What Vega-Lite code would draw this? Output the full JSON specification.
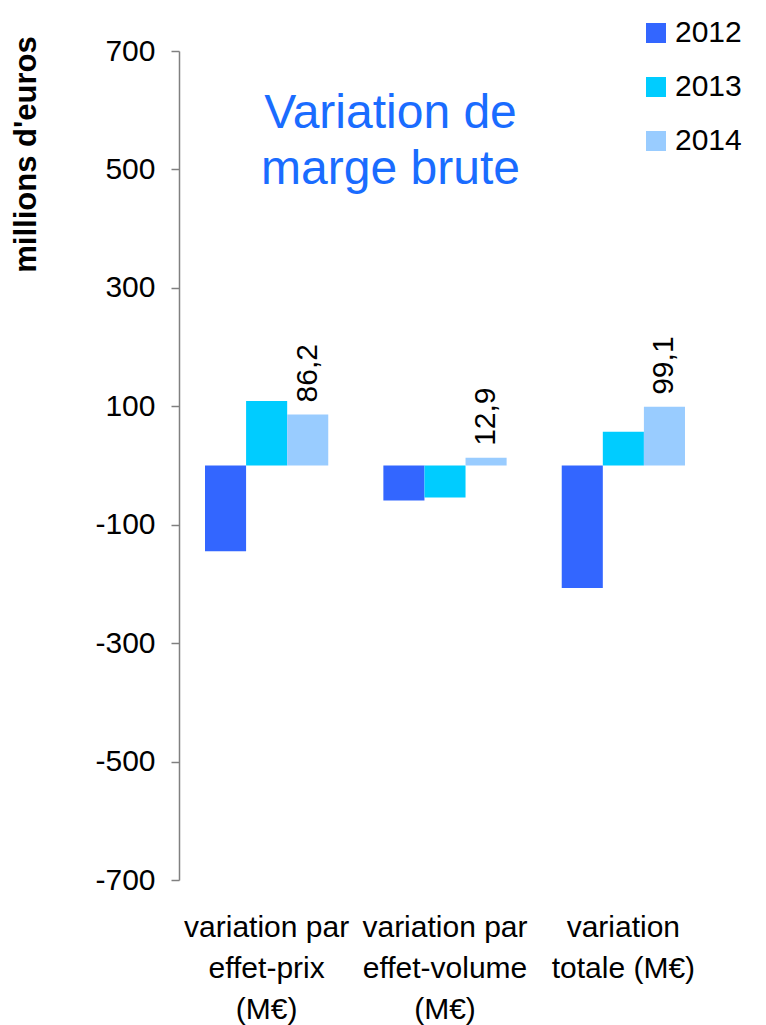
{
  "$schema": "https://vega.github.io/schema/vega-lite/v6.json",
  "autosize": "none",
  "padding": {"left": 179, "top": 51, "right": 0, "bottom": 145},
  "width": 587,
  "height": 829,
  "background": "white",
  "config": {
    "view": {"stroke": null},
    "font": "Liberation Sans",
    "text": {"font": "Liberation Sans"}
  },
  "title": {
    "text": ["Variation de", "marge brute"],
    "fontSize": 48,
    "fontWeight": "normal",
    "font": "Liberation Sans",
    "color": "#1a6cff",
    "anchor": "middle",
    "frame": "group",
    "baseline": "top",
    "lineHeight": 56,
    "dx": -82,
    "dy": 176,
    "offset": 0
  },
  "data": {
    "values": [
      {"category": "variation par|effet-prix|(M€)", "year": "2012", "value": -145, "label": ""},
      {"category": "variation par|effet-prix|(M€)", "year": "2013", "value": 109, "label": ""},
      {"category": "variation par|effet-prix|(M€)", "year": "2014", "value": 86.2, "label": "86,2"},
      {"category": "variation par|effet-volume|(M€)", "year": "2012", "value": -59, "label": ""},
      {"category": "variation par|effet-volume|(M€)", "year": "2013", "value": -54, "label": ""},
      {"category": "variation par|effet-volume|(M€)", "year": "2014", "value": 12.9, "label": "12,9"},
      {"category": "variation|totale (M€)", "year": "2012", "value": -207, "label": ""},
      {"category": "variation|totale (M€)", "year": "2013", "value": 57, "label": ""},
      {"category": "variation|totale (M€)", "year": "2014", "value": 99.1, "label": "99,1"}
    ]
  },
  "encoding": {
    "x": {
      "field": "category",
      "type": "nominal",
      "sort": null,
      "scale": {"paddingInner": 0.309, "paddingOuter": 0.3, "align": 0.243},
      "axis": {
        "title": null,
        "orient": "bottom",
        "domain": false,
        "ticks": false,
        "labelAngle": 0,
        "labelExpr": "split(datum.label, '|')",
        "labelFontSize": 30,
        "labelFont": "Liberation Sans",
        "labelColor": "#000000",
        "labelLineHeight": 41,
        "labelBaseline": "top",
        "labelPadding": 32,
        "labelLimit": 400
      }
    },
    "xOffset": {
      "field": "year",
      "type": "nominal",
      "scale": {"paddingInner": 0, "paddingOuter": 0}
    }
  },
  "layer": [
    {
      "mark": {"type": "bar"},
      "encoding": {
        "y": {
          "field": "value",
          "type": "quantitative",
          "scale": {"domain": [-700, 700], "nice": false, "zero": false},
          "axis": {
            "values": [-700, -500, -300, -100, 100, 300, 500, 700],
            "labelExpr": "datum.value < 0 ? '-' + abs(datum.value) : '' + datum.value",
            "grid": false,
            "domainColor": "#808080",
            "domainWidth": 1.5,
            "tickColor": "#808080",
            "tickSize": 8,
            "tickWidth": 1.5,
            "labelFontSize": 30,
            "labelFont": "Liberation Sans",
            "labelColor": "#000000",
            "labelPadding": 16,
            "title": "millions d'euros",
            "titleFont": "Liberation Sans",
            "titleFontSize": 31,
            "titleFontWeight": "bold",
            "titleColor": "#000000",
            "titleAngle": -90,
            "titleX": -144,
            "titleY": 103,
            "titleAlign": "center",
            "titleBaseline": "alphabetic"
          }
        },
        "color": {
          "field": "year",
          "type": "nominal",
          "scale": {"domain": ["2012", "2013", "2014"], "range": ["#3366ff", "#00ccff", "#99ccff"]},
          "legend": {
            "title": null,
            "orient": "none",
            "legendX": 462,
            "legendY": -33,
            "padding": 0,
            "symbolType": "square",
            "symbolSize": 400,
            "symbolStrokeWidth": 0,
            "symbolOpacity": 1,
            "labelFontSize": 30,
            "labelFont": "Liberation Sans",
            "labelColor": "#000000",
            "labelOffset": 4,
            "rowPadding": 24
          }
        }
      }
    },
    {
      "mark": {"type": "text", "angle": 270, "align": "left", "baseline": "middle", "dx": 12, "fontSize": 30, "font": "Liberation Sans", "color": "#000000"},
      "encoding": {
        "y": {"field": "value", "type": "quantitative"},
        "text": {"field": "label"}
      }
    },
    {
      "mark": {"type": "rule", "color": "#808080", "strokeWidth": 2},
      "encoding": {
        "y": {"datum": 0}
      }
    }
  ]
}
